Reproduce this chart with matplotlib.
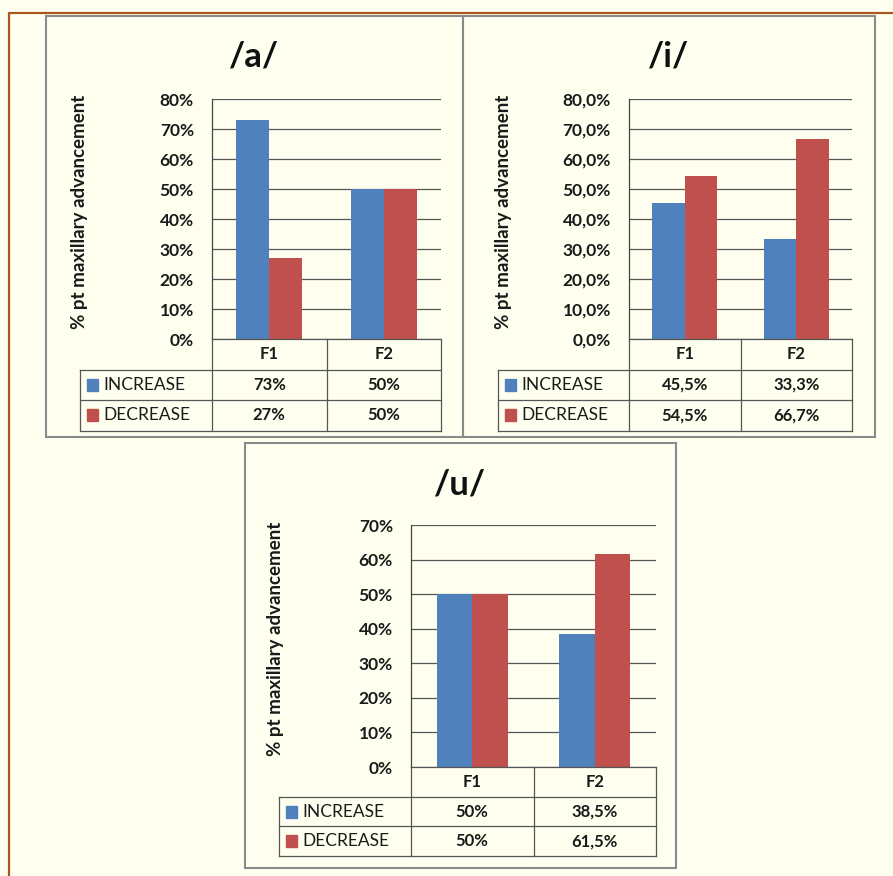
import matplotlib
matplotlib.use("Agg")
import matplotlib.pyplot as plt
from matplotlib.patches import Rectangle
from matplotlib.ticker import FuncFormatter

plt.rcParams['font.family'] = ['Lato', 'DejaVu Sans']

# Data
formants = ['F1', 'F2']
series = ['INCREASE', 'DECREASE']
colors = ['#4F81BD', '#C0504D']

a_increase = [73, 50]
a_decrease = [27, 50]
i_increase = [45.5, 33.3]
i_decrease = [54.5, 66.7]
u_increase = [50, 38.5]
u_decrease = [50, 61.5]

W, H = 893, 876
BG = '#FFFFF0'
fig = plt.figure(figsize=(W / 100, H / 100), dpi=100, facecolor=BG)

# overlay in pixel units for frames, titles and the data tables
bg = fig.add_axes([0, 0, 1, 1], zorder=0)
bg.set_xlim(0, W)
bg.set_ylim(H, 0)
bg.axis('off')

# outer page frame
bg.plot([8.5, 8.5, W], [H, 12.5, 12.5], color='#A8561C', lw=1.6, solid_capstyle='butt')

TXT = '#1A1A1A'


def pct_label(v):
    return f"{v:g}".replace('.', ',') + '%'


def draw_panel(title, values, panel, plot, ymax, decimals, table_left, ylabel_x, row_h):
    px0, py0, px1, py1 = panel
    x0, y0, x1, y1 = plot
    bg.add_patch(Rectangle((px0, py0), px1 - px0, py1 - py0, fill=False,
                           ec='#8A8A8A', lw=1.5))
    bg.text((px0 + px1) / 2, py0 + 41, title, ha='center', va='center',
            fontsize=25, fontweight='bold', color='#111111')
    bg.text(ylabel_x, (y0 + y1) / 2 - 7, '% pt maxillary advancement', rotation=90,
            ha='center', va='center', fontsize=13.5, fontweight='bold', color=TXT)

    ax = fig.add_axes([x0 / W, 1 - y1 / H, (x1 - x0) / W, (y1 - y0) / H], zorder=1)
    ax.set_facecolor('none')
    w = 0.29
    pos = range(len(formants))
    for k, (vals, c) in enumerate(zip(values, colors)):
        ax.bar([p + (k - 0.5) * w for p in pos], vals, w, color=c, zorder=2)
    ax.set_xlim(-0.5, len(formants) - 0.5)
    ax.set_ylim(0, ymax)
    ax.set_yticks(range(0, ymax + 1, 10))
    ax.yaxis.set_major_formatter(FuncFormatter(
        lambda v, _: f"{v:.{decimals}f}".replace('.', ',') + '%'))
    ax.set_xticks([])
    ax.tick_params(axis='y', length=0, pad=13, labelsize=12.5, labelcolor=TXT)
    for t in ax.get_yticklabels():
        t.set_fontweight('bold')
    ax.grid(axis='y', color='#555555', lw=0.9, zorder=1)
    ax.set_axisbelow(True)
    for s in ['top', 'right']:
        ax.spines[s].set_visible(False)
    ax.spines['left'].set_color('#444444')
    ax.spines['bottom'].set_color('#555555')
    ax.spines['left'].set_linewidth(0.9)
    ax.spines['bottom'].set_linewidth(0.9)

    # data table below the plot
    lc = '#555555'
    cw = (x1 - x0) / len(formants)
    bottom = y1 + (len(series) + 1) * row_h
    for j in range(len(formants) + 1):
        bg.plot([x0 + j * cw] * 2, [y1, bottom], color=lc, lw=0.9)
    bg.plot([table_left] * 2, [y1 + row_h, bottom], color=lc, lw=0.9)
    for r in range(1, len(series) + 2):
        bg.plot([table_left, x1], [y1 + r * row_h] * 2, color=lc, lw=0.9)
    for j, f in enumerate(formants):
        bg.text(x0 + (j + 0.5) * cw, y1 + row_h / 2, f, ha='center', va='center',
                fontsize=12, fontweight='bold', color=TXT)
    for r, (name, vals, c) in enumerate(zip(series, values, colors)):
        yc = y1 + (r + 1.5) * row_h
        bg.add_patch(Rectangle((table_left + 7, yc - 6), 11, 12, color=c))
        bg.text(table_left + 23, yc, name, ha='left', va='center',
                fontsize=12.5, color=TXT)
        for j, v in enumerate(vals):
            bg.text(x0 + (j + 0.5) * cw, yc, pct_label(v), ha='center', va='center',
                    fontsize=12, fontweight='bold', color=TXT)


draw_panel('/a/', [a_increase, a_decrease], (46, 16, 463, 437), (212, 99, 441, 339),
           80, 0, 80, 80, 30.5)
draw_panel('/i/', [i_increase, i_decrease], (463, 16, 875, 437), (629, 99, 852, 339),
           80, 1, 498, 503, 30.5)
draw_panel('/u/', [u_increase, u_decrease], (245, 443, 676, 868), (411, 525, 656, 767),
           70, 0, 279, 275, 29.7)

fig.savefig('out.png', dpi=100, facecolor=BG)
